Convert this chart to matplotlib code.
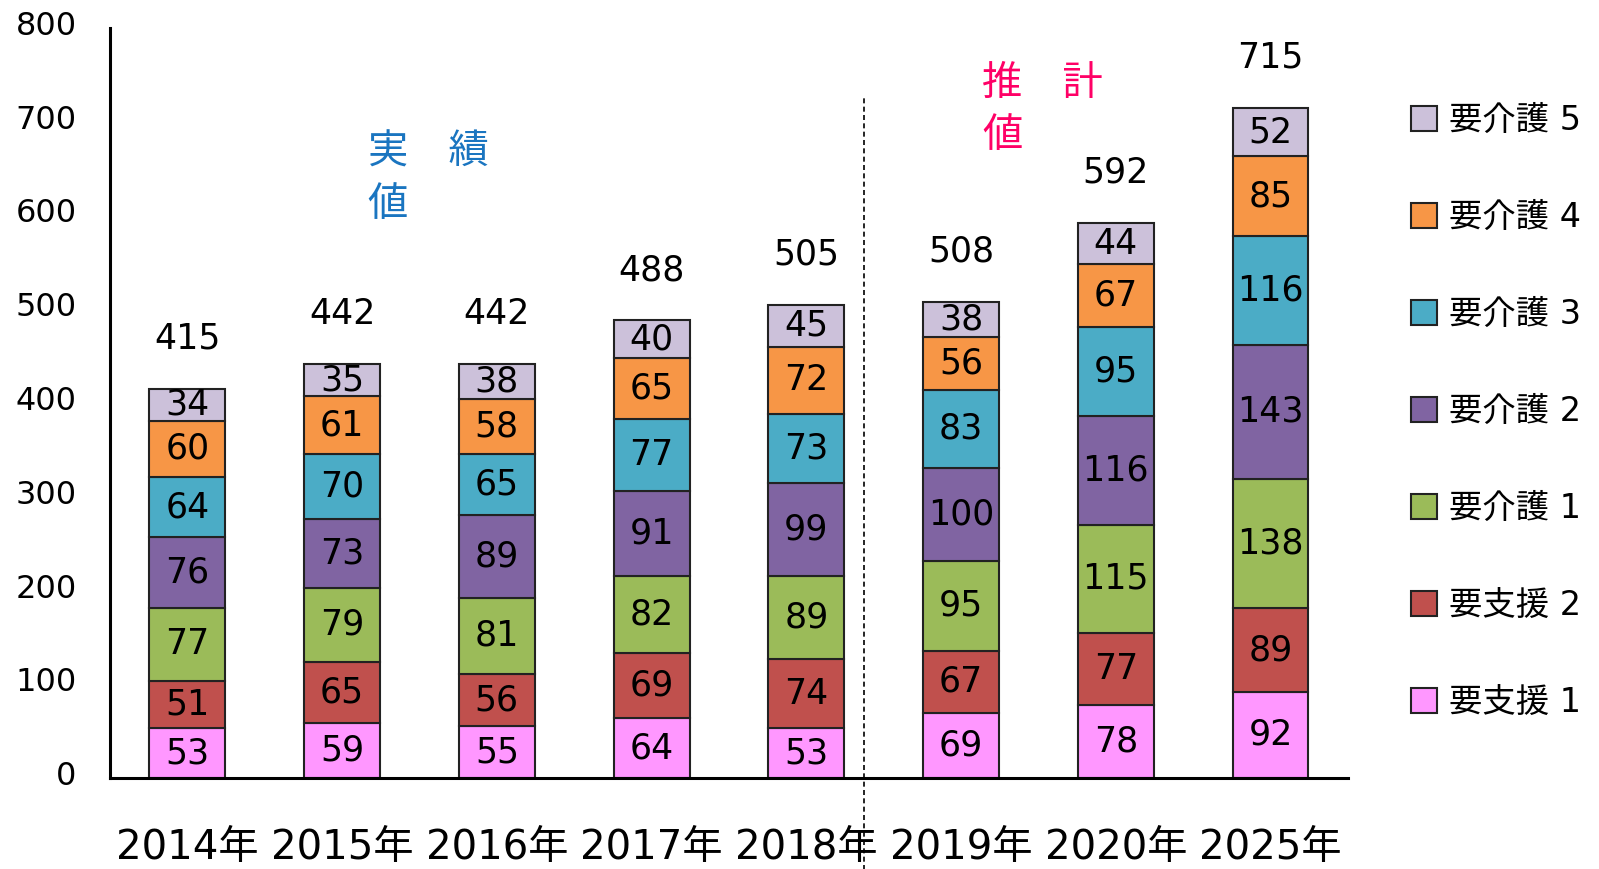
import matplotlib
matplotlib.use("Agg")
import matplotlib.pyplot as plt
import matplotlib.transforms as mtransforms
from matplotlib.patches import Patch

plt.rcParams['font.family'] = ['DejaVu Sans', 'Noto Sans CJK JP']

# データ
years = ['2014年', '2015年', '2016年', '2017年', '2018年', '2019年', '2020年', '2025年']
shien1 = [53, 59, 55, 64, 53, 69, 78, 92]
shien2 = [51, 65, 56, 69, 74, 67, 77, 89]
kaigo1 = [77, 79, 81, 82, 89, 95, 115, 138]
kaigo2 = [76, 73, 89, 91, 99, 100, 116, 143]
kaigo3 = [64, 70, 65, 77, 73, 83, 95, 116]
kaigo4 = [60, 61, 58, 65, 72, 56, 67, 85]
kaigo5 = [34, 35, 38, 40, 45, 38, 44, 52]
totals = [415, 442, 442, 488, 505, 508, 592, 715]

series = [
    ('要支援 1', shien1, '#ff97ff'),
    ('要支援 2', shien2, '#c0504d'),
    ('要介護 1', kaigo1, '#9bbb59'),
    ('要介護 2', kaigo2, '#8064a2'),
    ('要介護 3', kaigo3, '#4bacc6'),
    ('要介護 4', kaigo4, '#f79646'),
    ('要介護 5', kaigo5, '#ccc1da'),
]

fig = plt.figure(figsize=(15.99, 8.69), dpi=100)
ax = fig.add_axes([0.0688, 0.1047, 0.7742, 0.8631])

x = list(range(len(years)))
bottom = [0] * len(years)
for name, vals, col in series:
    bars = ax.bar(x, vals, width=0.49, bottom=bottom, color=col,
                  edgecolor='#222222', linewidth=1.5, label=name)
    ax.bar_label(bars, labels=[str(v) for v in vals], label_type='center',
                 fontsize=25, color='black')
    bottom = [b + v for b, v in zip(bottom, vals)]

# 合計
for xi, t in zip(x, totals):
    ax.annotate(str(t), (xi, t), xytext=(0, 36), textcoords='offset points',
                ha='center', va='center', fontsize=25)

# 実績値 / 推計値 の区切り
ax.axvline(4.37, ymin=-0.125, ymax=0.908, color='black', lw=1.2,
           ls=(0, (3, 2)), clip_on=False)

ax.text(1.165, 688, '実　績\n値', color='#1a75c0', fontsize=29,
        ha='left', va='top', linespacing=1.4)
ax.text(5.135, 762, '推　計\n値', color='#ff0066', fontsize=29,
        ha='left', va='top', linespacing=1.4)

ax.set_xlim(-0.5, 7.5)
ax.set_ylim(0, 800)
ax.set_yticks(range(0, 801, 100))
ax.set_xticks(x)
ax.set_xticklabels(years, fontsize=29)
ax.tick_params(axis='x', length=0, pad=36)
ax.tick_params(axis='y', length=0, pad=24, labelsize=23)
offset = mtransforms.ScaledTranslation(0, 5 / 100, fig.dpi_scale_trans)
for lab in ax.get_yticklabels():
    lab.set_transform(lab.get_transform() + offset)

for s in ['top', 'right']:
    ax.spines[s].set_visible(False)
for s in ['left', 'bottom']:
    ax.spines[s].set_linewidth(2.2)
    ax.spines[s].set_color('black')

handles = [Patch(facecolor=c, edgecolor='#222222', linewidth=1.5, label=n)
           for n, _, c in reversed(series)]
fig.legend(handles=handles, loc='center left', bbox_to_anchor=(0.872, 0.526),
           frameon=False, fontsize=24, borderpad=0, handlelength=0.78,
           handleheight=0.78, handletextpad=0.35, labelspacing=1.92)

fig.savefig('out.png', dpi=100)
